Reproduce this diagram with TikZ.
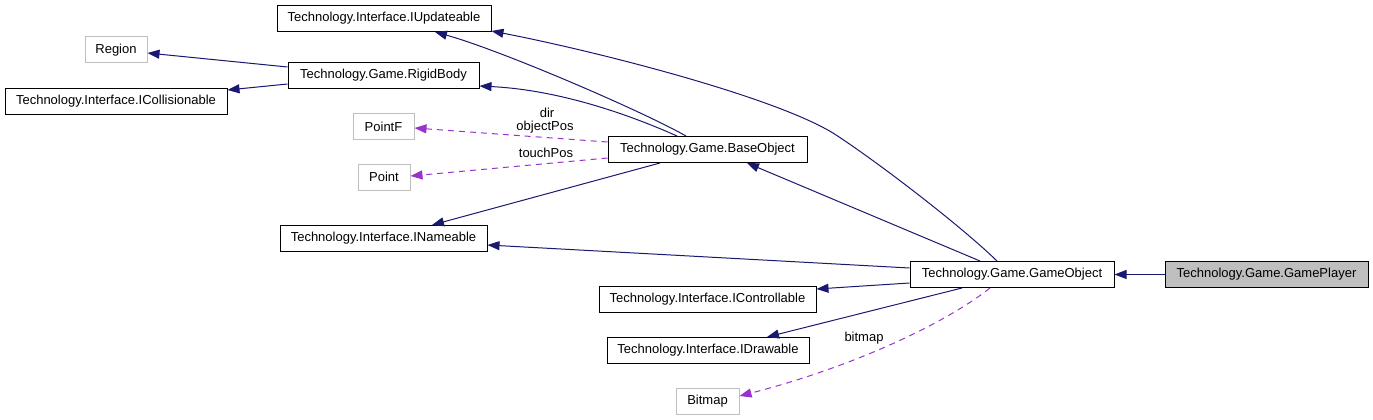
\documentclass[tikz,border=0pt]{standalone}
\usepackage{fontspec}
\setmainfont{Liberation Sans}
\usetikzlibrary{arrows.meta}
\definecolor{edgeblue}{RGB}{25,25,112}
\definecolor{depcol}{RGB}{153,50,204}
\definecolor{extgray}{RGB}{191,191,191}
\begin{document}
\begin{tikzpicture}[x=1pt,y=-1pt,
  clsbox/.style={draw=black, line width=1pt, minimum height=26pt, inner sep=0pt, font=\fontsize{13}{15}\selectfont},
  extbox/.style={clsbox, draw=extgray},
  mainbox/.style={clsbox, fill=extgray},
  inhedge/.style={draw=edgeblue, line width=1pt, -{Triangle[length=12pt,width=9pt]}},
  depedge/.style={draw=depcol, line width=1pt, dash pattern=on 6pt off 5pt, -{Triangle[length=12pt,width=9pt]}},
  lbl/.style={inner sep=0pt, font=\fontsize{13}{15}\selectfont}]
\useasboundingbox (0,0) rectangle (1373,420);
% nodes
\node[clsbox, minimum width=214pt] (iupd) at (384,18.5) {Technology.Interface.IUpdateable};
\node[clsbox, minimum width=191pt] (rigid) at (383.5,75.5) {Technology.Game.RigidBody};
\node[extbox, minimum width=62pt] (region) at (116,50) {Region};
\node[clsbox, minimum width=222pt] (icoll) at (116,101.5) {Technology.Interface.ICollisionable};
\node[extbox, minimum width=61pt] (pointf) at (383.5,126.5) {PointF};
\node[extbox, minimum width=52pt] (point) at (384,177) {Point};
\node[clsbox, minimum width=199pt] (base) at (707.5,149.5) {Technology.Game.BaseObject};
\node[clsbox, minimum width=207pt] (iname) at (383.5,238.5) {Technology.Interface.INameable};
\node[clsbox, minimum width=204pt] (go) at (1012,274.5) {Technology.Game.GameObject};
\node[mainbox, minimum width=203pt] (gp) at (1266.5,274.5) {Technology.Game.GamePlayer};
\node[clsbox, minimum width=217pt] (ictrl) at (707.5,299.5) {Technology.Interface.IControllable};
\node[clsbox, minimum width=202pt] (idraw) at (708,350.5) {Technology.Interface.IDrawable};
\node[extbox, minimum width=63pt] (bitmap) at (707.5,401) {Bitmap};
% labels
\node[lbl] (ldir) at (547,113) {dir};
\node[lbl] (lobj) at (545,127) {objectPos};
\node[lbl] (ltouch) at (546,153) {touchPos};
\node[lbl] (lbmp) at (864,338) {bitmap};
% edges
\draw[inhedge] (gp.west) -- (go.east);
\draw[inhedge] ([xshift=-15pt]go.north) .. controls (960,225) and (875,160) .. (833,133) .. controls (770,95) and (590,50) .. ([yshift=-12.5pt]iupd.east);
\draw[inhedge] ([xshift=-32pt]go.north) -- ([xshift=39.5pt]base.south);
\draw[inhedge] ([yshift=6.5pt]go.west) -- ([yshift=-6.5pt]iname.east);
\draw[inhedge] ([yshift=-8.5pt]go.west) -- ([yshift=10.5pt]ictrl.east);
\draw[inhedge] ([xshift=-50pt]go.south) -- ([xshift=59pt]idraw.north);
\draw[depedge] ([xshift=-22pt]go.south) .. controls (950,320) and (860,365) .. ([yshift=5pt]bitmap.east);
\draw[inhedge] ([xshift=-21.5pt]base.north) .. controls (640,110) and (500,50) .. ([xshift=51pt]iupd.south);
\draw[inhedge] ([xshift=-30.5pt]base.north) .. controls (630,115) and (560,90) .. ([yshift=-10.5pt]rigid.east);
\draw[inhedge] ([xshift=-47.5pt]base.south) -- ([xshift=48.5pt]iname.north);
\draw[depedge] ([yshift=7.5pt]base.west) -- ([yshift=-1.5pt]pointf.east);
\draw[depedge] ([yshift=-8.5pt]base.west) -- ([yshift=1pt]point.east);
\draw[inhedge] ([yshift=8.5pt]rigid.west) -- ([yshift=-3pt]region.east);
\draw[inhedge] ([yshift=-8.5pt]rigid.west) -- ([yshift=11.5pt]icoll.east);
\end{tikzpicture}
\end{document}
